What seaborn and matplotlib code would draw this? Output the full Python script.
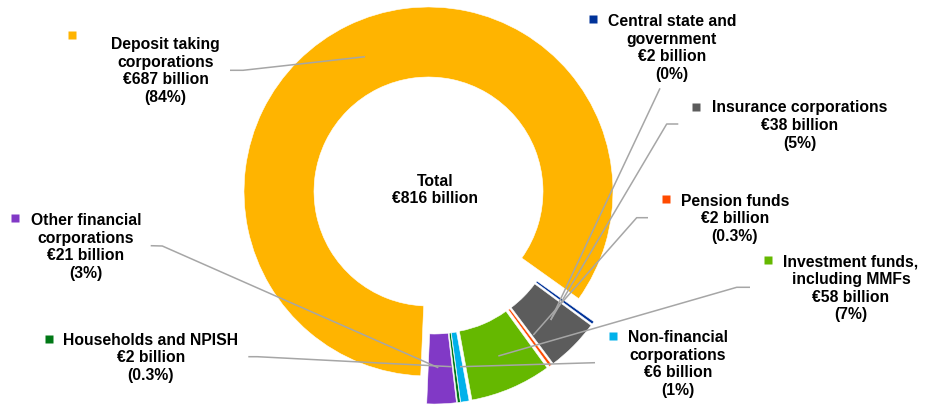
import numpy as np
import matplotlib
matplotlib.use("Agg")
import matplotlib.pyplot as plt
import seaborn as sns

# data (EUR billion)
sectors = ["Deposit taking\ncorporations", "Other financial\ncorporations",
           "Households and NPISH", "Non-financial\ncorporations",
           "Investment funds,\nincluding MMFs", "Pension funds",
           "Insurance corporations", "Central state and\ngovernment"]
values = [687, 21, 2, 6, 58, 2, 38, 2]
shares = ["84%", "3%", "0.3%", "1%", "7%", "0.3%", "5%", "0%"]
colors = ["#FFB400", "#8139C6", "#007816", "#00B1EA",
          "#65B800", "#FF4B00", "#5C5C5C", "#003299"]
total = 816

sns.set_theme(style="white")
plt.rcParams["font.family"] = ["Liberation Sans", "DejaVu Sans"]

W, H = 929, 405
fig = plt.figure(figsize=(W / 100, H / 100), dpi=100)
ax = fig.add_axes([0, 0, 1, 1])

def Y(y):
    # image pixel row -> data y
    return H - y

cx, cy, R = 428.5, Y(191.5), 184.5
explode = [0] + [12] * (len(values) - 1)
wedges, _ = ax.pie(values, colors=colors, startangle=-35.5, counterclock=True,
                   radius=R, center=(cx, cy), explode=explode,
                   wedgeprops=dict(width=70, edgecolor="white", linewidth=0.4))

# the small sectors are pulled out together
gx, gy = 5.5, -16
for w in wedges[1:]:
    x0, y0 = w.center
    w.set_center((x0 + gx, y0 + gy))

ax.set_xlim(0, W)
ax.set_ylim(0, H)
ax.set_aspect("equal")
ax.axis("off")

# label layout: text centre, legend square, leader line (image pixels)
label_xy = [(165.5, 71), (86, 247), (151, 358), (678, 364),
            (851, 288.5), (735, 219), (799.5, 125.5), (672, 48)]
square_xy = [(72, 34.5), (15.5, 218), (49, 339), (613.5, 335.5),
             (768, 259.5), (666.5, 199), (696.5, 106.5), (593.5, 19)]
leaders = [
    [(230, 70.3), (243, 70.3), (365, 56.7)],
    [(150.7, 245.7), (162.3, 246), (438.3, 367.7)],
    [(248.3, 356.7), (257.3, 356.7), (451.7, 366.7)],
    [(595, 362.7), (460, 366.7)],
    [(750, 287.3), (736.7, 287.3), (498.3, 356)],
    [(648, 217.7), (636.7, 217.7), (533.3, 335)],
    [(678.3, 124), (666.7, 124), (550.7, 320)],
    [(660, 88.3), (550.7, 320)],
]

fs = 11.3
for i, name in enumerate(sectors):
    pts = leaders[i]
    ax.plot([p[0] for p in pts], [Y(p[1]) for p in pts], color="#A6A6A6",
            lw=1.1, solid_capstyle="butt", zorder=5)
    txt = f"{name}\n€{values[i]} billion\n({shares[i]})"
    lx, ly = label_xy[i]
    ax.text(lx, Y(ly), txt, ha="center", va="center", multialignment="center",
            fontsize=fs, fontweight="bold", color="black", linespacing=1.22,
            zorder=6)
    sx, sy = square_xy[i]
    ax.plot(sx, Y(sy), marker="s", ms=5.4, color=colors[i], mec="none",
            zorder=6)

ax.text(435, Y(190), f"Total\n€{total} billion", ha="center", va="center",
        multialignment="center", fontsize=fs, fontweight="bold",
        color="black", linespacing=1.22)

fig.savefig("out.png", dpi=100)
